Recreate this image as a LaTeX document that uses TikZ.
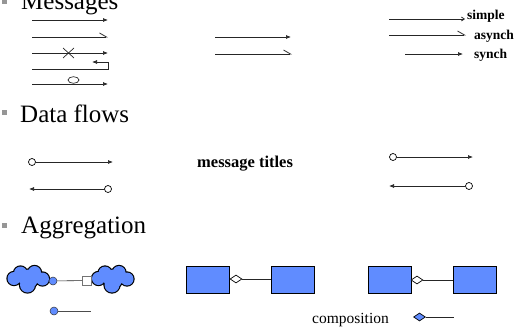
\documentclass[tikz,border=0pt]{standalone}
\usepackage{fontspec}
\setmainfont{Liberation Serif}
\usetikzlibrary{arrows.meta,shapes.geometric}
\definecolor{umlblue}{RGB}{96,140,255}
\definecolor{bulletgrey}{RGB}{150,150,150}
\tikzset{
  heading/.style={anchor=base west,inner sep=0pt,font=\fontsize{25}{28}\selectfont},
  bulletsq/.style={fill=bulletgrey,draw=none,minimum size=5pt,inner sep=0pt},
  msg/.style={draw=black!85,line width=0.7pt},
  fullhead/.style={-{Latex[length=5pt,width=4pt]}},
  halfhead/.style={-{Straight Barb[left,length=7pt,width=8pt,line width=0.8pt]}},
  tag/.style={anchor=base west,inner sep=0pt,font=\bfseries\fontsize{13.5}{15}\selectfont},
  flowdot/.style={circle,draw=black,fill=white,line width=0.7pt,minimum size=7pt,inner sep=0pt},
  classbox/.style={rectangle,draw=black,fill=umlblue,line width=0.8pt,minimum width=43pt,minimum height=27pt,inner sep=0pt},
  lolly/.style={circle,draw=black!80,fill=umlblue,line width=0.5pt,minimum size=8pt,inner sep=0pt},
  aggdiamond/.style={diamond,draw=black,fill=white,line width=0.7pt,minimum width=12pt,minimum height=8pt,inner sep=0pt},
  compdiamond/.style={diamond,draw=black,fill=umlblue,line width=0.7pt,minimum width=12pt,minimum height=8pt,inner sep=0pt},
}
% lobes of a component blob, around the current origin (y axis points down)
\newcommand{\bloblobes}{%
  (-14.5,-0.5) circle[radius=6.5] (-8,-6) circle[radius=6.5]
  (6,-6.5) circle[radius=6.5] (14,0) circle[radius=6.5]
  (-1,6) circle[radius=7.5] (0,0) circle[radius=9.5]}
% outline first (thick), then the blue fill on top leaves only the outer edge
\newcommand{\componentblob}{%
  \path[draw=black,line width=2.3pt] \bloblobes;
  \path[fill=umlblue] \bloblobes;}
\begin{document}
\begin{tikzpicture}[x=1pt,y=-1pt]
\useasboundingbox (0,0) rectangle (518,329);

% section headings with square bullets
\node[bulletsq] (b1) at (4,2) {};
\node[heading] (h1) at (21,10) {Messages};
\node[bulletsq] (b2) at (4,112) {};
\node[heading] (h2) at (20,122) {Data flows};
\node[bulletsq] (b3) at (4,225) {};
\node[heading] (h3) at (21,233) {Aggregation};

% ---- message kinds, left column
\coordinate (m1a) at (32,20);  \coordinate (m1b) at (108,20);
\coordinate (m2a) at (32,37);  \coordinate (m2b) at (108,37);
\coordinate (m3a) at (32,53);  \coordinate (m3b) at (108,53);
\coordinate (m4a) at (32,69);  \coordinate (m4b) at (108,69);
\coordinate (m4c) at (108,62); \coordinate (m4d) at (92,62);
\coordinate (m5a) at (32,84);  \coordinate (m5b) at (108,84);
\draw[msg,fullhead] (m1a) -- (m1b);
\draw[msg,halfhead] (m2a) -- (m2b);
\draw[msg,fullhead] (m3a) -- (m3b);
\draw[msg] (63,48) -- (74,58) (74,48) -- (63,58);
\draw[msg,fullhead] (m4a) -- (m4b) -- (m4c) -- (m4d);
\draw[msg,fullhead] (m5a) -- (m5b);
\draw[msg] (73.5,80) ellipse [x radius=5.5,y radius=3.3];

% ---- middle column
\coordinate (c1a) at (215,37); \coordinate (c1b) at (291,37);
\coordinate (c2a) at (215,54); \coordinate (c2b) at (292,54);
\draw[msg,fullhead] (c1a) -- (c1b);
\draw[msg,halfhead,line width=1pt] (c2a) -- (c2b);

% ---- right column with labels
\coordinate (r1a) at (389,19); \coordinate (r1b) at (465,19);
\coordinate (r2a) at (389,35); \coordinate (r2b) at (466,35);
\coordinate (r3a) at (405,54); \coordinate (r3b) at (463,54);
\draw[msg,-{Straight Barb[length=3pt,width=4pt]}] (r1a) -- (r1b);
\draw[msg,halfhead] (r2a) -- (r2b);
\draw[msg,fullhead] (r3a) -- (r3b);
\node[tag] (t1) at (467,20) {simple};
\node[tag] (t2) at (474,39) {asynch};
\node[tag] (t3) at (474,59) {synch};

% ---- data flows
\node[flowdot] (d1) at (32,162) {};
\coordinate (d1e) at (113,162);
\draw[msg,fullhead] (d1) -- (d1e);
\node[flowdot] (d2) at (108,189) {};
\coordinate (d2e) at (29,189);
\draw[msg,fullhead] (d2) -- (d2e);

\node[anchor=base west,inner sep=0pt,font=\bfseries\fontsize{16.5}{18}\selectfont] (mt) at (197,167) {message titles};

\node[flowdot] (d3) at (393,157) {};
\coordinate (d3e) at (473,157);
\draw[msg,fullhead] (d3) -- (d3e);
\node[flowdot] (d4) at (469,186) {};
\coordinate (d4e) at (389,186);
\draw[msg,fullhead] (d4) -- (d4e);

% ---- aggregation: components with interfaces
\begin{scope}[shift={(28.5,279)}]\componentblob\end{scope}
\begin{scope}[shift={(113,279)}]\componentblob\end{scope}
\node[rectangle,draw=black!55,fill=white,line width=0.8pt,minimum size=9pt,inner sep=0pt] (sq) at (87,280.5) {};
\node[lolly] (ball1) at (53,281) {};
\draw[msg,line width=0.6pt] (ball1) -- (sq);
\node[lolly] (ball2) at (54,311) {};
\coordinate (ball2e) at (91,311);
\draw[draw=black!70,line width=0.6pt] (ball2) -- (ball2e);

% ---- aggregation between classes
\node[classbox] (k1) at (207.5,279.5) {};
\node[classbox] (k2) at (292.5,279.5) {};
\node[aggdiamond] (a1) at (236,279) {};
\draw[msg] (a1.east) -- (k2.west |- a1.east);

\node[classbox] (k3) at (389.5,279.5) {};
\node[classbox] (k4) at (475,279.5) {};
\node[aggdiamond] (a2) at (417,280) {};
\draw[msg] (a2.east) -- (k4.west |- a2.east);

% ---- composition legend
\node[anchor=base west,inner sep=0pt,font=\fontsize{15.5}{17}\selectfont] (comp) at (312,323) {composition};
\node[compdiamond] (cd) at (419.5,317) {};
\coordinate (cde) at (454,317);
\draw[msg] (cd.east) -- (cde);
\end{tikzpicture}
\end{document}
